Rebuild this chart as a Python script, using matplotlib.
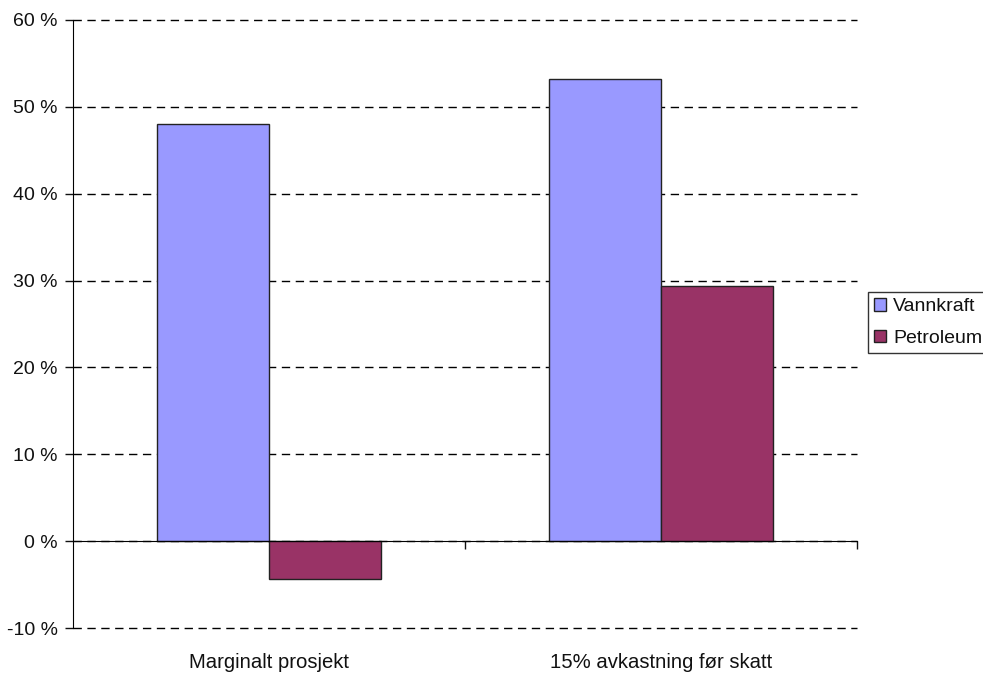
import matplotlib.pyplot as plt
import numpy as np

plt.rcParams.update({
    'font.family': 'Liberation Sans',
    'font.size': 14,
    'text.color': '#111111',
    'xtick.color': '#111111',
    'ytick.color': '#111111',
})

kategorier = ['Marginalt prosjekt', '15% avkastning før skatt']
vannkraft = [48.0, 53.2]
petroleum = [-4.3, 29.4]
y_ticks = [-10, 0, 10, 20, 30, 40, 50, 60]

C_VANN, C_PETRO = '#9999FF', '#993366'
bredde = 0.286

fig = plt.figure(figsize=(9.83, 6.75), dpi=100)
ax = fig.add_axes([0.0743, 0.0696, 0.7975, 0.9008])

x = np.arange(len(kategorier))
ax.bar(x - bredde / 2, vannkraft, bredde, color=C_VANN, edgecolor='#222222', linewidth=1, label='Vannkraft', zorder=3)
ax.bar(x + bredde / 2, petroleum, bredde, color=C_PETRO, edgecolor='#222222', linewidth=1, label='Petroleum', zorder=3)

ax.set_xlim(-0.5, len(kategorier) - 0.5)
ax.set_ylim(-10, 60)
ax.set_yticks(y_ticks)
ax.set_yticklabels([f'{v} %' for v in y_ticks])
ax.yaxis.grid(True, linestyle=(0, (6, 4)), color='black', linewidth=1)
for gl in ax.get_ygridlines():
    gl.set_clip_on(False)
ax.set_axisbelow(True)
ax.tick_params(axis='y', length=6, width=1, pad=5)

# nulllinje med kategorimerker
for s in ['top', 'right']:
    ax.spines[s].set_visible(False)
ax.spines['bottom'].set_position(('data', 0))
ax.spines['bottom'].set_zorder(4)
ax.set_xticks(list(x + 0.5))
ax.tick_params(axis='x', length=6, width=1, labelbottom=False)

sec = ax.secondary_xaxis('bottom')
sec.spines['bottom'].set_visible(False)
sec.set_xticks(x)
sec.set_xticklabels(kategorier, fontsize=14.6)
sec.tick_params(length=0, pad=18)

leg = fig.legend(loc='upper left', bbox_to_anchor=(0.883, 0.567), frameon=True, fancybox=False,
                 edgecolor='black', handlelength=0.62, handleheight=0.62, handletextpad=0.36,
                 borderpad=0.3, labelspacing=0.75, borderaxespad=0)
leg.get_frame().set_linewidth(1)

fig.savefig('out.png', dpi=100)
